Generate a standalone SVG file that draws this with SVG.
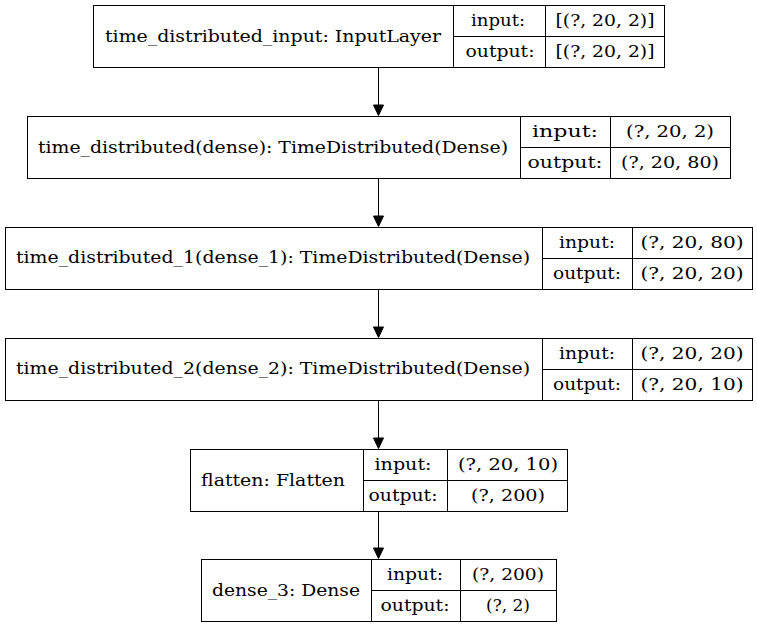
<svg xmlns="http://www.w3.org/2000/svg" width="757" height="627" viewBox="0 0 757 627">
<style>
rect.b{fill:#fff;stroke:#000;stroke-width:1}
line.d{stroke:#000;stroke-width:1}
text{font-family:"DejaVu Serif","Liberation Serif",serif;font-size:16px;fill:#000;text-anchor:middle}
.e{stroke:#000;stroke-width:1;fill:none}
.h{fill:#000;stroke:#000;stroke-width:1}
</style>
<rect x="0" y="0" width="757" height="627" fill="#fff"/>
<g id="connectors">
<line class="e" x1="378.5" y1="67" x2="378.5" y2="106"/>
<path class="h" d="M373.5,105 L383.5,105 L378.5,115.5 Z"/>
<line class="e" x1="378.5" y1="178" x2="378.5" y2="217"/>
<path class="h" d="M373.5,216 L383.5,216 L378.5,226.5 Z"/>
<line class="e" x1="378.5" y1="289" x2="378.5" y2="328"/>
<path class="h" d="M373.5,327 L383.5,327 L378.5,337.5 Z"/>
<line class="e" x1="378.5" y1="400" x2="378.5" y2="439"/>
<path class="h" d="M373.5,438 L383.5,438 L378.5,448.5 Z"/>
<line class="e" x1="378.5" y1="511" x2="378.5" y2="549"/>
<path class="h" d="M373.5,548 L383.5,548 L378.5,558.5 Z"/>
</g>
<g id="n1">
<rect class="b" x="93.5" y="5.5" width="571" height="62"/>
<line class="d" x1="453.5" y1="5.5" x2="453.5" y2="67.5"/>
<line class="d" x1="545.5" y1="5.5" x2="545.5" y2="67.5"/>
<line class="d" x1="453.5" y1="36.5" x2="664.5" y2="36.5"/>
<text x="273" y="42" textLength="336" lengthAdjust="spacingAndGlyphs">time_distributed_input: InputLayer</text>
<text x="498" y="26" textLength="54" lengthAdjust="spacingAndGlyphs">input:</text>
<text x="500" y="57" textLength="69" lengthAdjust="spacingAndGlyphs">output:</text>
<text x="605" y="26" textLength="99" lengthAdjust="spacingAndGlyphs">[(?, 20, 2)]</text>
<text x="605" y="57" textLength="99" lengthAdjust="spacingAndGlyphs">[(?, 20, 2)]</text>
</g>
<g id="n2">
<rect class="b" x="27.5" y="116.5" width="703" height="62"/>
<line class="d" x1="520.5" y1="116.5" x2="520.5" y2="178.5"/>
<line class="d" x1="610.5" y1="116.5" x2="610.5" y2="178.5"/>
<line class="d" x1="520.5" y1="147.5" x2="730.5" y2="147.5"/>
<text x="273" y="153" textLength="470" lengthAdjust="spacingAndGlyphs">time_distributed(dense): TimeDistributed(Dense)</text>
<text x="565" y="137" textLength="66" lengthAdjust="spacingAndGlyphs">input:</text>
<text x="565" y="168" textLength="75" lengthAdjust="spacingAndGlyphs">output:</text>
<text x="670" y="137" textLength="88" lengthAdjust="spacingAndGlyphs">(?, 20, 2)</text>
<text x="670" y="168" textLength="98" lengthAdjust="spacingAndGlyphs">(?, 20, 80)</text>
</g>
<g id="n3">
<rect class="b" x="5.5" y="227.5" width="747" height="62"/>
<line class="d" x1="542.5" y1="227.5" x2="542.5" y2="289.5"/>
<line class="d" x1="632.5" y1="227.5" x2="632.5" y2="289.5"/>
<line class="d" x1="542.5" y1="258.5" x2="752.5" y2="258.5"/>
<text x="273" y="263" textLength="514" lengthAdjust="spacingAndGlyphs">time_distributed_1(dense_1): TimeDistributed(Dense)</text>
<text x="587" y="248" textLength="56" lengthAdjust="spacingAndGlyphs">input:</text>
<text x="587" y="279" textLength="68" lengthAdjust="spacingAndGlyphs">output:</text>
<text x="692" y="248" textLength="103" lengthAdjust="spacingAndGlyphs">(?, 20, 80)</text>
<text x="692" y="279" textLength="103" lengthAdjust="spacingAndGlyphs">(?, 20, 20)</text>
</g>
<g id="n4">
<rect class="b" x="5.5" y="338.5" width="747" height="62"/>
<line class="d" x1="542.5" y1="338.5" x2="542.5" y2="400.5"/>
<line class="d" x1="632.5" y1="338.5" x2="632.5" y2="400.5"/>
<line class="d" x1="542.5" y1="369.5" x2="752.5" y2="369.5"/>
<text x="273" y="374" textLength="514" lengthAdjust="spacingAndGlyphs">time_distributed_2(dense_2): TimeDistributed(Dense)</text>
<text x="587" y="359" textLength="56" lengthAdjust="spacingAndGlyphs">input:</text>
<text x="587" y="390" textLength="68" lengthAdjust="spacingAndGlyphs">output:</text>
<text x="692" y="359" textLength="103" lengthAdjust="spacingAndGlyphs">(?, 20, 20)</text>
<text x="692" y="390" textLength="103" lengthAdjust="spacingAndGlyphs">(?, 20, 10)</text>
</g>
<g id="n5">
<rect class="b" x="190.5" y="449.5" width="377" height="62"/>
<line class="d" x1="363.5" y1="449.5" x2="363.5" y2="511.5"/>
<line class="d" x1="447.5" y1="449.5" x2="447.5" y2="511.5"/>
<line class="d" x1="363.5" y1="480.5" x2="567.5" y2="480.5"/>
<text x="273" y="486" textLength="144" lengthAdjust="spacingAndGlyphs">flatten: Flatten</text>
<text x="403" y="470" textLength="57" lengthAdjust="spacingAndGlyphs">input:</text>
<text x="403" y="501" textLength="69" lengthAdjust="spacingAndGlyphs">output:</text>
<text x="508" y="470" textLength="100" lengthAdjust="spacingAndGlyphs">(?, 20, 10)</text>
<text x="508" y="501" textLength="74" lengthAdjust="spacingAndGlyphs">(?, 200)</text>
</g>
<g id="n6">
<rect class="b" x="201.5" y="559.5" width="355" height="62"/>
<line class="d" x1="371.5" y1="559.5" x2="371.5" y2="621.5"/>
<line class="d" x1="460.5" y1="559.5" x2="460.5" y2="621.5"/>
<line class="d" x1="371.5" y1="590.5" x2="556.5" y2="590.5"/>
<text x="286" y="596" textLength="148" lengthAdjust="spacingAndGlyphs">dense_3: Dense</text>
<text x="415" y="580" textLength="56" lengthAdjust="spacingAndGlyphs">input:</text>
<text x="415" y="611" textLength="69" lengthAdjust="spacingAndGlyphs">output:</text>
<text x="508" y="580" textLength="72" lengthAdjust="spacingAndGlyphs">(?, 200)</text>
<text x="508" y="611" textLength="44" lengthAdjust="spacingAndGlyphs">(?, 2)</text>
</g>
</svg>
